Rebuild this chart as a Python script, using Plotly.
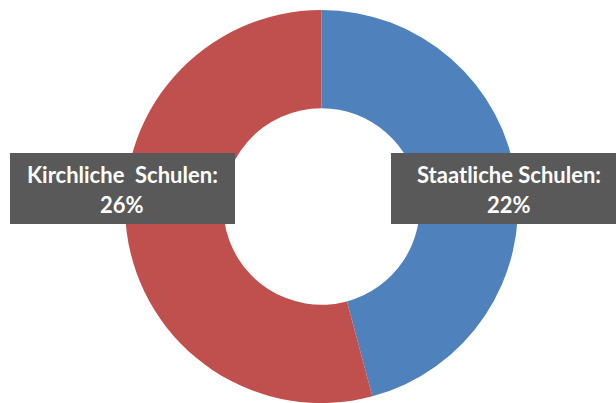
import plotly.graph_objects as go

labels = ["Staatliche Schulen", "Kirchliche Schulen"]
values = [22, 26]
colors = ["#4F81BD", "#C0504D"]
label_texts = ["Staatliche Schulen:", "Kirchliche  Schulen:"]
pct_texts = ["22%", "26%"]

W, H = 616, 403

fig = go.Figure(go.Pie(
    labels=labels, values=values, hole=0.5, sort=False, direction="clockwise",
    rotation=0, marker=dict(colors=colors, line=dict(width=0)),
    textinfo="none", hoverinfo="label+percent", showlegend=False,
    domain=dict(x=[125/W, 518/W], y=[1-403/H, 1-10/H]),
))

# label boxes (right: Staatliche, left: Kirchliche)
boxes = [(391, 153, 620, 224), (10, 153, 235, 224)]
shapes = []
annotations = []
font = dict(family="Lato", size=22, color="white")
for (x0, y0, x1, y1), t1, t2, cx in zip(boxes, label_texts, pct_texts, [508.5, 122]):
    shapes.append(dict(type="rect", xref="paper", yref="paper",
                       x0=x0/W, x1=x1/W, y0=1-y1/H, y1=1-y0/H,
                       fillcolor="#595959", line=dict(width=0), layer="above"))
    annotations.append(dict(text=f"<b>{t1}</b>", x=cx/W, y=1-174/H, xref="paper", yref="paper",
                            showarrow=False, font=font, xanchor="center", yanchor="middle"))
    annotations.append(dict(text=f"<b>{t2}</b>", x=cx/W, y=1-204/H, xref="paper", yref="paper",
                            showarrow=False, font=font, xanchor="center", yanchor="middle"))

fig.update_layout(width=W, height=H, margin=dict(l=0, r=0, t=0, b=0),
                  paper_bgcolor="white", plot_bgcolor="white",
                  shapes=shapes, annotations=annotations)
fig.write_html("out.html", config={"displayModeBar": False},
               post_script="document.body.style.margin='0';document.body.style.overflow='hidden';")
